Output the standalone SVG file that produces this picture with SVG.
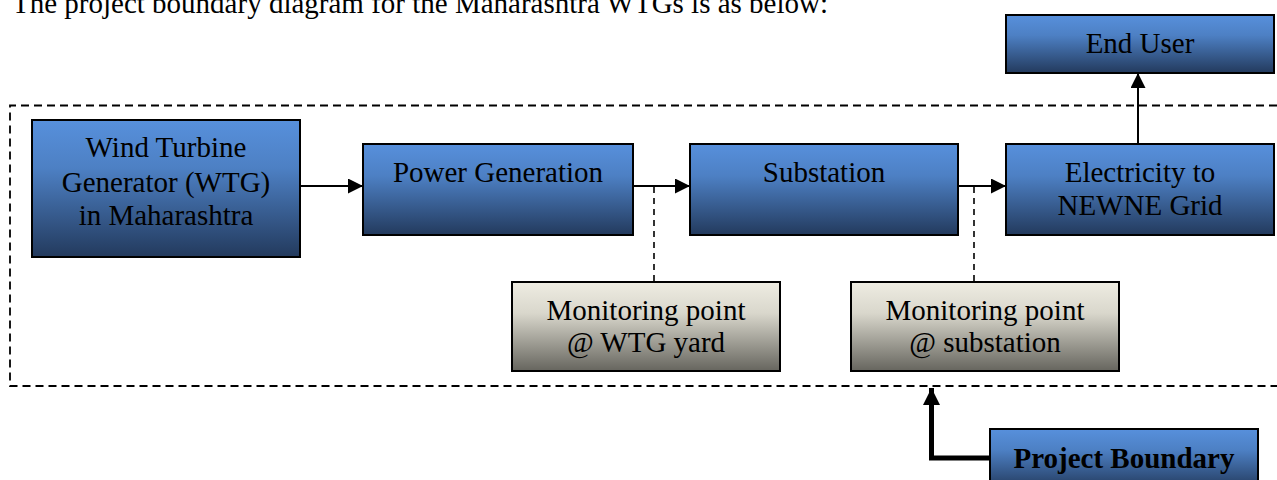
<svg xmlns="http://www.w3.org/2000/svg" width="1277" height="480" viewBox="0 0 1277 480">
<defs>
<linearGradient id="blue" x1="0" y1="0" x2="0" y2="1">
<stop offset="0" stop-color="#5790dc"/>
<stop offset="0.35" stop-color="#4d80c4"/>
<stop offset="1" stop-color="#233a5d"/>
</linearGradient>
<linearGradient id="gray" x1="0" y1="0" x2="0" y2="1">
<stop offset="0" stop-color="#eeece2"/>
<stop offset="0.35" stop-color="#d9d7cc"/>
<stop offset="1" stop-color="#66655e"/>
</linearGradient>
<marker id="ah" markerWidth="15" markerHeight="15" refX="15" refY="7.5" orient="auto" markerUnits="userSpaceOnUse">
<path d="M0,0 L15,7.5 L0,15 Z" fill="#000"/>
</marker>
<marker id="ahb" markerWidth="17" markerHeight="17" refX="17" refY="8.5" orient="auto" markerUnits="userSpaceOnUse">
<path d="M0,0 L17,8.5 L0,17 Z" fill="#000"/>
</marker>
</defs>
<style>
.box{stroke:#000;stroke-width:2}
.b{fill:url(#blue)}
.g{fill:url(#gray)}
text{font-family:"Liberation Serif","Times New Roman",serif;font-size:29px;fill:#000}
.c{text-anchor:middle}
.bold{font-weight:bold}
.conn{stroke:#000;stroke-width:2;fill:none}
.dash{stroke:#000;stroke-width:1.6;fill:none;stroke-dasharray:6 5}
.bdash{stroke:#000;stroke-width:1.8;fill:none;stroke-dasharray:8 5}
</style>
<rect width="1277" height="480" fill="#fff"/>
<text x="12" y="13">The project boundary diagram for the Maharashtra WTGs is as below:</text>
<g id="boundary">
<path class="bdash" d="M1290,105.5 L10,105.5 L10,386 L1290,386"/>
</g>
<g id="connectors">
<line class="conn" x1="300" y1="186" x2="363" y2="186" marker-end="url(#ah)"/>
<line class="conn" x1="633" y1="186" x2="690" y2="186" marker-end="url(#ah)"/>
<line class="conn" x1="958" y1="186" x2="1006" y2="186" marker-end="url(#ah)"/>
<line class="conn" x1="1138" y1="144" x2="1138" y2="73" marker-end="url(#ah)"/>
<line class="dash" x1="654" y1="187" x2="654" y2="282"/>
<line class="dash" x1="974" y1="187" x2="974" y2="282"/>
<path d="M990,458 L931.5,458 L931.5,388" stroke="#000" stroke-width="5" fill="none" marker-end="url(#ahb)"/>
</g>
<g id="wtg">
<rect class="box b" x="32" y="120" width="268" height="137"/>
<text class="c" x="166" y="157">Wind Turbine</text>
<text class="c" x="166" y="192">Generator (WTG)</text>
<text class="c" x="166" y="225">in Maharashtra</text>
</g>
<g id="power">
<rect class="box b" x="363" y="144" width="270" height="91"/>
<text class="c" x="498" y="182">Power Generation</text>
</g>
<g id="substation">
<rect class="box b" x="690" y="144" width="268" height="91"/>
<text class="c" x="824" y="182">Substation</text>
</g>
<g id="electricity">
<rect class="box b" x="1006" y="144" width="268" height="91"/>
<text class="c" x="1140" y="182">Electricity to</text>
<text class="c" x="1140" y="215">NEWNE Grid</text>
</g>
<g id="enduser">
<rect class="box b" x="1006" y="15" width="268" height="58"/>
<text class="c" x="1140" y="53">End User</text>
</g>
<g id="mon-wtg">
<rect class="box g" x="512" y="282" width="268" height="89"/>
<text class="c" x="646" y="320">Monitoring point</text>
<text class="c" x="646" y="352">@ WTG yard</text>
</g>
<g id="mon-sub">
<rect class="box g" x="851" y="282" width="268" height="89"/>
<text class="c" x="985" y="320">Monitoring point</text>
<text class="c" x="985" y="352">@ substation</text>
</g>
<g id="project-boundary">
<rect class="box b" x="990" y="429" width="268" height="60"/>
<text class="c bold" x="1124" y="468">Project Boundary</text>
</g>
</svg>
